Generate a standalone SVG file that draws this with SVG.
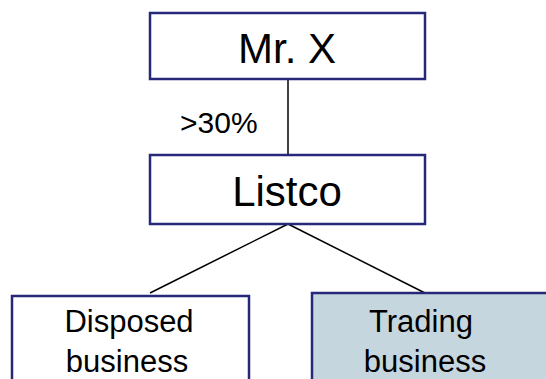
<svg xmlns="http://www.w3.org/2000/svg" width="546" height="379" viewBox="0 0 546 379">
  <style>
    .box { fill: #ffffff; stroke: #28287A; stroke-width: 2.5; }
    .shaded { fill: #C6D6DF; }
    .t { font-family: "Liberation Sans", Arial, sans-serif; fill: #000000; text-anchor: middle; }
    .big { font-size: 42px; }
    .mid { font-size: 31px; }
    .lbl { font-size: 30px; text-anchor: start; }
    .conn { stroke: #000000; stroke-width: 1.5; fill: none; }
  </style>
  <rect width="546" height="379" fill="#ffffff"/>
  <g id="connectors">
    <line class="conn" x1="288" y1="79" x2="288" y2="155"/>
    <line class="conn" x1="288" y1="224" x2="150" y2="293"/>
    <line class="conn" x1="288" y1="224" x2="425" y2="293"/>
    <text class="t lbl" x="180" y="132.5">&gt;30%</text>
  </g>
  <g id="mrx">
    <rect class="box" x="150" y="13" width="275" height="66"/>
    <text class="t big" x="287" y="63">Mr. X</text>
  </g>
  <g id="listco">
    <rect class="box" x="150" y="155" width="275" height="69"/>
    <text class="t big" x="287" y="206">Listco</text>
  </g>
  <g id="disposed">
    <rect class="box" x="12" y="296" width="237" height="110"/>
    <text class="t mid" x="129" y="332">Disposed</text>
    <text class="t mid" x="127" y="371.5">business</text>
  </g>
  <g id="trading">
    <rect class="box shaded" x="312" y="293" width="260" height="110"/>
    <text class="t mid" x="421" y="332">Trading</text>
    <text class="t mid" x="425" y="371.5">business</text>
  </g>
</svg>
